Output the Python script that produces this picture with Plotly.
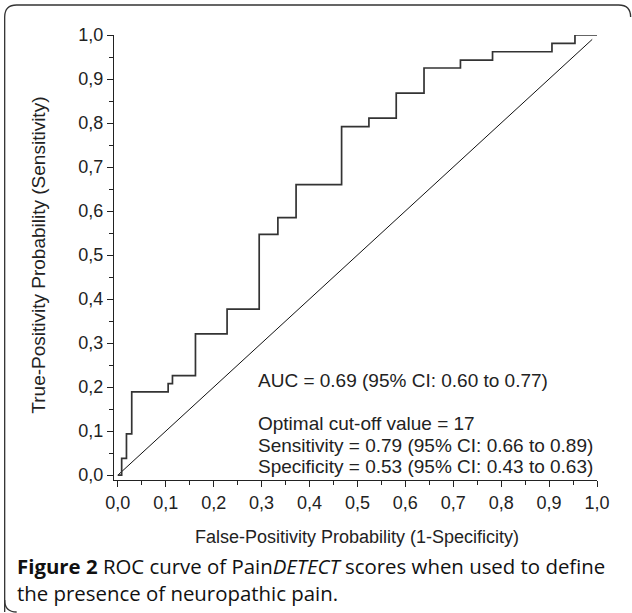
import plotly.graph_objects as go

# ROC step curve vertices (1-specificity, sensitivity), drawn with 'hv' steps
fpr = [0.0, 0.008, 0.018, 0.029, 0.105, 0.114, 0.162, 0.228, 0.295, 0.334, 0.372,
       0.467, 0.524, 0.581, 0.639, 0.715, 0.782, 0.906, 0.954, 1.0]
tpr = [0.0, 0.038, 0.094, 0.189, 0.208, 0.226, 0.321, 0.377, 0.547, 0.585, 0.660,
       0.792, 0.811, 0.868, 0.925, 0.943, 0.962, 0.981, 1.0, 1.0]
# chance (reference) diagonal
diag_x = [0.0, 0.99]
diag_y = [0.0, 0.99]

tick_vals = [0.0, 0.1, 0.2, 0.3, 0.4, 0.5, 0.6, 0.7, 0.8, 0.9, 1.0]
tick_text = ["0,0", "0,1", "0,2", "0,3", "0,4", "0,5", "0,6", "0,7", "0,8", "0,9", "1,0"]

stats_lines = [
    "AUC = 0.69 (95% CI: 0.60 to 0.77)",
    "",
    "Optimal cut-off value = 17",
    "Sensitivity = 0.79 (95% CI: 0.66 to 0.89)",
    "Specificity = 0.53 (95% CI: 0.43 to 0.63)",
]
x_title = "False-Positivity Probability (1-Specificity)"
y_title = "True-Positivity Probability (Sensitivity)"
caption_1 = "<b>Figure 2</b> ROC curve of Pain<i>DETECT</i> scores when used to define"
caption_2 = "the presence of neuropathic pain."

W, H = 632, 613
L, R, T, B = 113.5, 34.7, 35, 133
PW, PH = W - L - R, H - T - B

def px(x):
    return (x - L) / PW

def py(y):
    return 1 - (y - T) / PH

FONT = "Liberation Sans, Arial, Helvetica, sans-serif"
CAP_FONT = "Open Sans, sans-serif"

fig = go.Figure()
fig.add_trace(go.Scatter(x=diag_x, y=diag_y, mode="lines",
                         line=dict(color="#111111", width=1), hoverinfo="skip"))
fig.add_trace(go.Scatter(x=fpr, y=tpr, mode="lines", line_shape="hv",
                         line=dict(color="#333333", width=1.7), hoverinfo="skip"))

axis_common = dict(
    tickvals=tick_vals, ticktext=tick_text, ticks="outside", ticklen=6,
    tickwidth=1, tickcolor="#222", showline=True, linecolor="#222", linewidth=1,
    showgrid=False, zeroline=False, mirror=False,
    tickfont=dict(family=FONT, size=18, color="#222"),
    minor=dict(dtick=0.05, tick0=0, ticks="outside", ticklen=4, tickcolor="#222", tickwidth=1),
)

fig.update_layout(
    width=W, height=H, autosize=False,
    margin=dict(l=L, r=R, t=T, b=B, pad=0),
    paper_bgcolor="white", plot_bgcolor="white", showlegend=False,
    xaxis=dict(range=[-0.008, 1.0], **axis_common),
    yaxis=dict(range=[-0.011, 1.0], **axis_common),
)

annotations = []
ys = [380.5, 402, 423.5, 445, 466.5]
for line, yy in zip(stats_lines, ys):
    if line:
        annotations.append(dict(text=line, xref="paper", yref="paper", x=px(256), y=py(yy),
                                xanchor="left", yanchor="middle", showarrow=False,
                                font=dict(family=FONT, size=19, color="#222")))
annotations.append(dict(text=x_title, xref="paper", yref="paper", x=px(357), y=py(537),
                        xanchor="center", yanchor="middle", showarrow=False,
                        font=dict(family=FONT, size=18, color="#222")))
annotations.append(dict(text=y_title, xref="paper", yref="paper", x=px(37), y=py(255),
                        xanchor="center", yanchor="middle", showarrow=False, textangle=-90,
                        font=dict(family=FONT, size=19, color="#222")))
annotations.append(dict(text=caption_1 + "<br>" + caption_2, xref="paper", yref="paper",
                        x=px(14), y=py(579.5), xanchor="left", yanchor="middle", align="left",
                        showarrow=False,
                        font=dict(family=CAP_FONT, size=20.4, color="#111")))
fig.update_layout(annotations=annotations)

# rounded frame around the figure
x0, y0, x1, y1, r = 4, 5, 631, 612, 12
path = (f"M {px(x0)},{py(y1)} L {px(x0)},{py(y0 + r)} "
        f"Q {px(x0)},{py(y0)} {px(x0 + r)},{py(y0)} L {px(x1 - r)},{py(y0)} "
        f"Q {px(x1)},{py(y0)} {px(x1)},{py(y0 + r)}")
fig.add_shape(type="path", path=path, xref="paper", yref="paper",
              line=dict(color="#333", width=1.3))
path2 = (f"M {px(x0)},{py(y1 - r)} Q {px(x0)},{py(y1)} {px(x0 + r)},{py(y1)}")
fig.add_shape(type="path", path=path2, xref="paper", yref="paper",
              line=dict(color="#333", width=1.3))

fig.write_html("out.html", config={"displayModeBar": False},
               post_script="document.body.style.margin='0';")
